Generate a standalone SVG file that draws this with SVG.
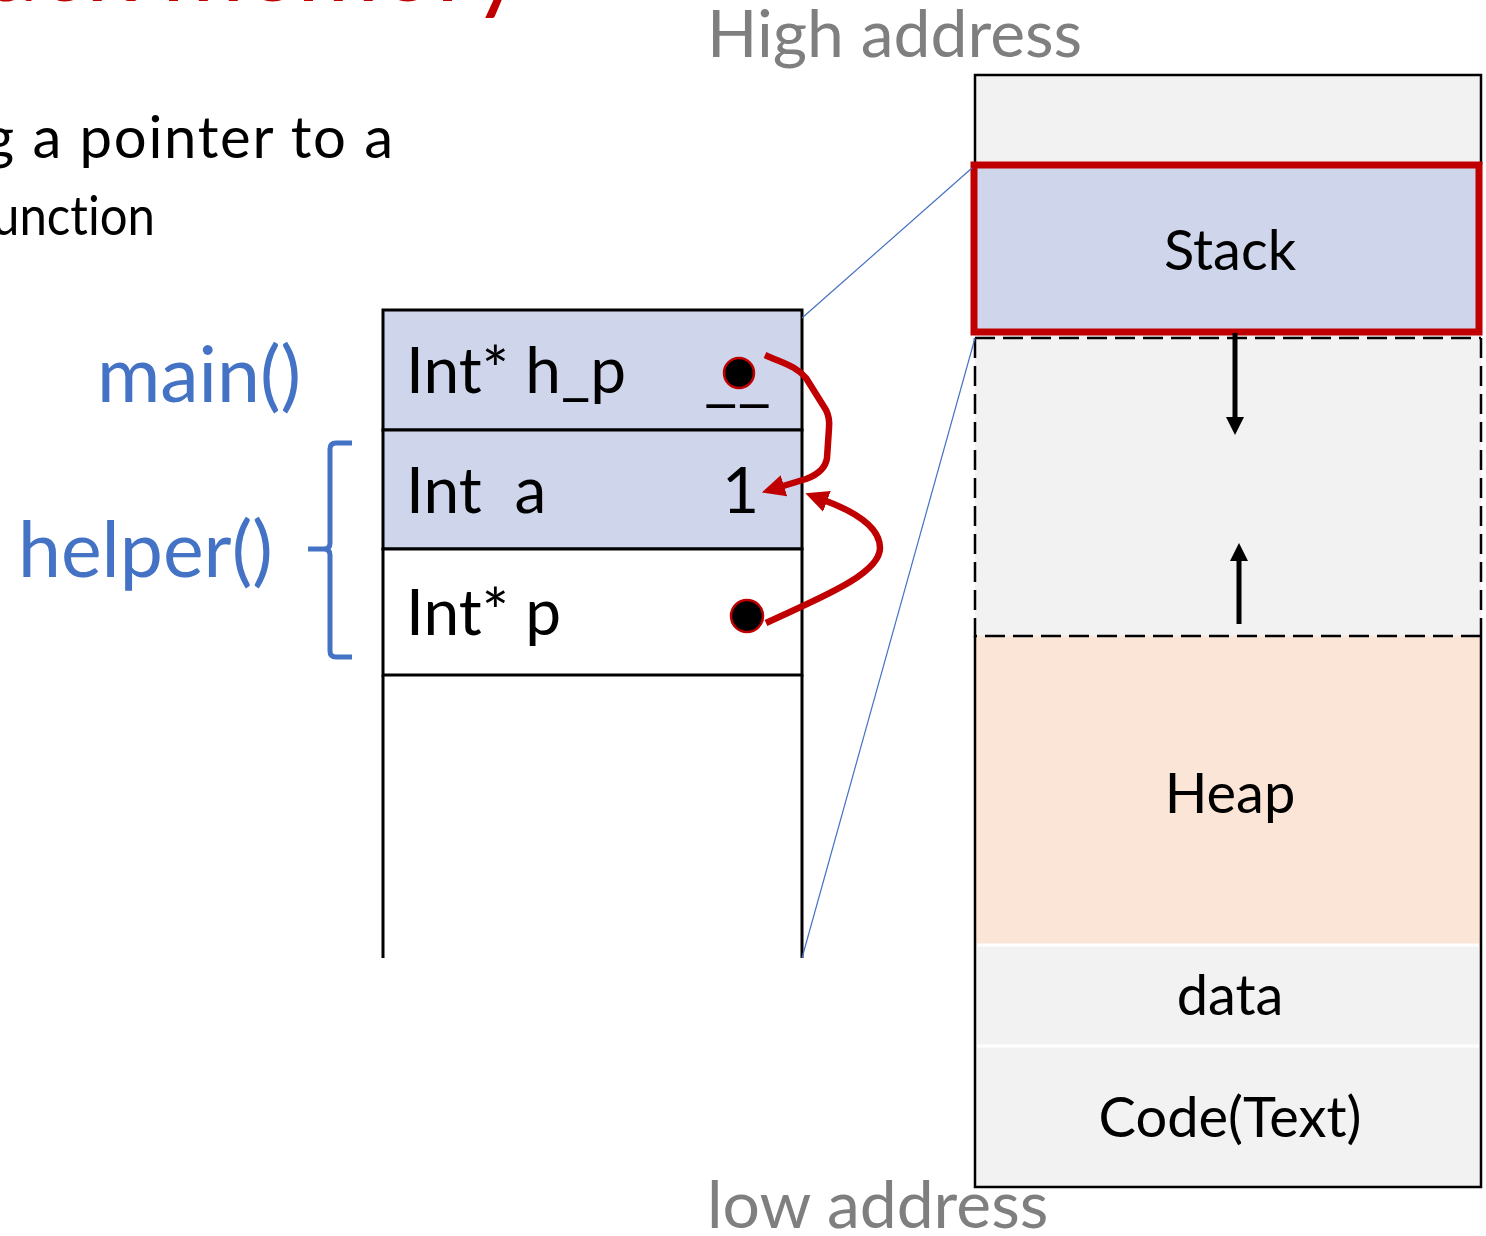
<svg xmlns="http://www.w3.org/2000/svg" width="1486" height="1236" viewBox="0 0 1486 1236">
<style>
.t{font-family:Lato,"Open Sans","Liberation Sans",sans-serif;fill:#000}
.gray{font-family:Lato,"Open Sans","Liberation Sans",sans-serif;fill:#7f7f7f;font-size:66px}
.blue{font-family:Lato,"Open Sans","Liberation Sans",sans-serif;fill:#4472c4;font-size:77px}
.cell{stroke:#000;stroke-width:3}
.red{fill:none;stroke:#c00000;stroke-width:6.5;stroke-linejoin:round;stroke-linecap:butt}
.dot{fill:#000;stroke:#c00000;stroke-width:2.5}
.edge{fill:none;stroke:#000;stroke-width:2.5}
.nolig{font-variant-ligatures:none}
</style>
<defs>
<marker id="ah" markerUnits="userSpaceOnUse" markerWidth="26" markerHeight="26" viewBox="0 0 26 26" refX="1" refY="12" orient="auto">
<path d="M0,1 L23,12 L0,23 Z" fill="#c00000"/>
</marker>
</defs>
<rect width="1486" height="1236" fill="#fff"/>

<g id="title">
<text x="524" y="1" text-anchor="end" font-family="Lato,'Liberation Sans',sans-serif" font-size="100" fill="#c00000">stack memory</text>
<text x="-16" y="158" class="t nolig" font-size="58" textLength="409" lengthAdjust="spacing">g a pointer to a</text>
<text x="-8" y="235" class="t nolig" font-size="54" textLength="163" lengthAdjust="spacingAndGlyphs">unction</text>
</g>

<g id="labels">
<text class="gray" x="707" y="57">High address</text>
<text class="gray" x="707" y="1228">low address</text>
<text class="blue" x="97" y="402">main()</text>
<text class="blue" x="18" y="577">helper()</text>
<path d="M352,443 L336,443 Q330,443 330,449 L330,543 Q330,549 324,549 L308,549 M324,549 Q330,549 330,555 L330,651 Q330,657 336,657 L352,657" fill="none" stroke="#4472c4" stroke-width="5"/>
</g>

<g id="frame">
<rect x="383" y="310" width="419" height="120" fill="#cfd5ea" class="cell"/>
<rect x="383" y="430" width="419" height="119" fill="#cfd5ea" class="cell"/>
<rect x="383" y="549" width="419" height="126" fill="#fff" class="cell"/>
<line x1="383" y1="675" x2="383" y2="958" class="cell"/>
<line x1="802" y1="675" x2="802" y2="958" class="cell"/>
<text class="t" x="406" y="393" font-size="64">Int* h_p</text>
<text class="t" x="704" y="399" font-size="62" textLength="67" lengthAdjust="spacingAndGlyphs">__</text>
<text class="t" x="406" y="513" font-size="64" xml:space="preserve">Int  a</text>
<text class="t" x="722" y="513" font-size="64">1</text>
<text class="t" x="406" y="635" font-size="64">Int* p</text>
<circle cx="739" cy="373" r="15" class="dot"/>
<circle cx="747" cy="616" r="16" class="dot"/>
</g>

<g id="memory">
<rect x="975" y="75" width="506" height="263" fill="#f2f2f2"/>
<rect x="975" y="338" width="506" height="298" fill="#f2f2f2"/>
<rect x="975" y="636" width="506" height="309" fill="#fbe5d6"/>
<rect x="975" y="945" width="506" height="242" fill="#f2f2f2"/>
<line x1="977" y1="945" x2="1479" y2="945" stroke="#fff" stroke-width="3"/>
<line x1="977" y1="1046" x2="1479" y2="1046" stroke="#fff" stroke-width="3"/>
<path class="edge" d="M975,165 L975,75 L1481,75 L1481,165"/>
<path class="edge" d="M975,636 L975,1187 L1481,1187 L1481,636"/>
<path class="edge" stroke-dasharray="20 8" d="M975,338 L975,636 L1481,636 M1481,338 L1481,636"/>
<line x1="975" y1="338" x2="1481" y2="338" stroke="#000" stroke-width="2.5" stroke-dasharray="20 8"/>
<rect x="974" y="165" width="505" height="167" fill="#cfd5ea" stroke="#c00000" stroke-width="7"/>
<text class="t" x="1230" y="270" font-size="56" text-anchor="middle">Stack</text>
<text class="t" x="1230" y="813" font-size="56" text-anchor="middle">Heap</text>
<text class="t" x="1230" y="1015" font-size="56" text-anchor="middle">data</text>
<text class="t" x="1230" y="1137" font-size="56" text-anchor="middle">Code(Text)</text>
<line x1="1235" y1="333" x2="1235" y2="420" stroke="#000" stroke-width="5"/>
<path d="M1226,417 L1244,417 L1235,435 Z" fill="#000"/>
<line x1="1239" y1="624" x2="1239" y2="558" stroke="#000" stroke-width="5"/>
<path d="M1230,561 L1248,561 L1239,543 Z" fill="#000"/>
</g>

<g id="connectors">
<line x1="802" y1="318" x2="972" y2="168" stroke="#4472c4" stroke-width="1.2"/>
<line x1="975" y1="338" x2="802" y2="958" stroke="#4472c4" stroke-width="1.2"/>
<path class="red" d="M765,355 C785,364 796,366 806,378 L826,410 Q830,418 829,428 L827,458 Q825,472 806,479 L783,486" marker-end="url(#ah)"/>
<path class="red" d="M766,623 C815,600 880,575 880,548 C880,525 850,510 826,501" marker-end="url(#ah)"/>
</g>
</svg>
